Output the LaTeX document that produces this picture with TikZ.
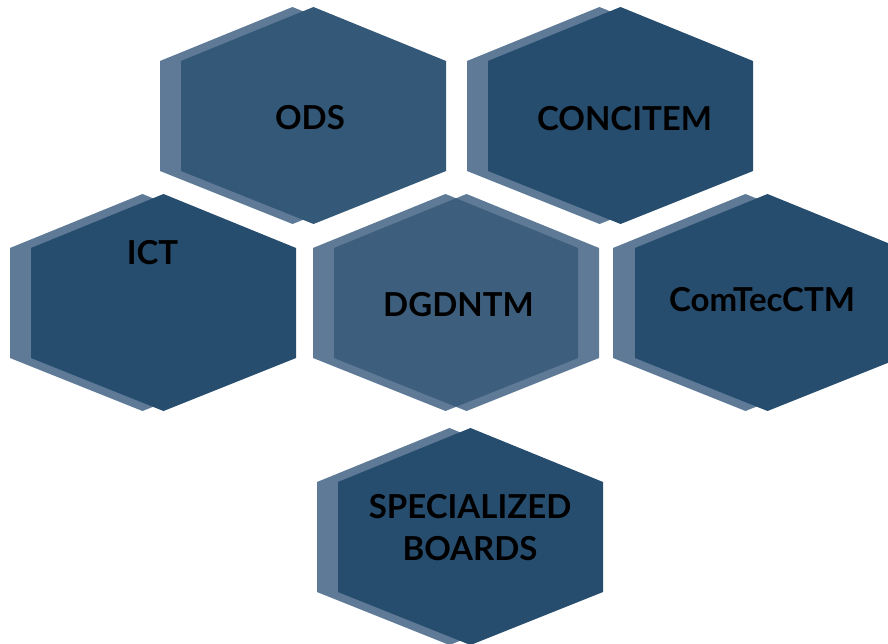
\documentclass[tikz,border=0pt]{standalone}
\usepackage{fontspec}
\setmainfont{Lato}[BoldFont={* Bold}]
\definecolor{backc}{HTML}{5E7A96}
\definecolor{darkc}{HTML}{264C6E}
\definecolor{odsc}{HTML}{345878}
\definecolor{midc}{HTML}{3D5E7C}
\newcommand\hexpath[2]{(#1,#2+54) -- (#1+132.5,#2) -- (#1+265,#2+54) -- (#1+265,#2+164) -- (#1+132.5,#2+217) -- (#1,#2+164) -- cycle}
\tikzset{
  lbl/.style={text=black, font=\fontsize{33}{42}\selectfont\bfseries, align=center, inner sep=0pt}
}
\begin{document}
\begin{tikzpicture}[x=1pt,y=-1pt]
\useasboundingbox (0,0) rectangle (888,644);
\begin{scope}
\clip (0,0) rectangle (888,644);
% ODS
\fill[backc] \hexpath{160}{7};
\fill[odsc] \hexpath{181}{7};
% CONCITEM
\fill[backc] \hexpath{467}{7};
\fill[darkc] \hexpath{488}{7};
% ICT
\fill[backc] \hexpath{10}{194};
\fill[darkc] \hexpath{31}{194};
% DGDNTM
\fill[backc] \hexpath{313}{194};
\fill[backc] \hexpath{334}{194};
\begin{scope}
\clip \hexpath{313}{194};
\fill[midc] \hexpath{334}{194};
\end{scope}
% ComTecCTM
\fill[backc] \hexpath{613}{194};
\fill[darkc] \hexpath{635}{194};
% SPECIALIZED BOARDS
\fill[backc] \hexpath{317}{428};
\fill[darkc] \hexpath{338}{428};
\end{scope}
\node[lbl] (ods) at (310,117.5) {ODS};
\node[lbl] (concitem) at (624.5,118.5) {CONCITEM};
\node[lbl] (ict) at (152.5,253) {ICT};
\node[lbl] (dgdntm) at (458.5,305) {DGDNTM};
\node[lbl] (comtec) at (762,300) {ComTecCTM};
\node[lbl] (boards) at (470,528) {SPECIALIZED\\BOARDS};
\end{tikzpicture}
\end{document}
